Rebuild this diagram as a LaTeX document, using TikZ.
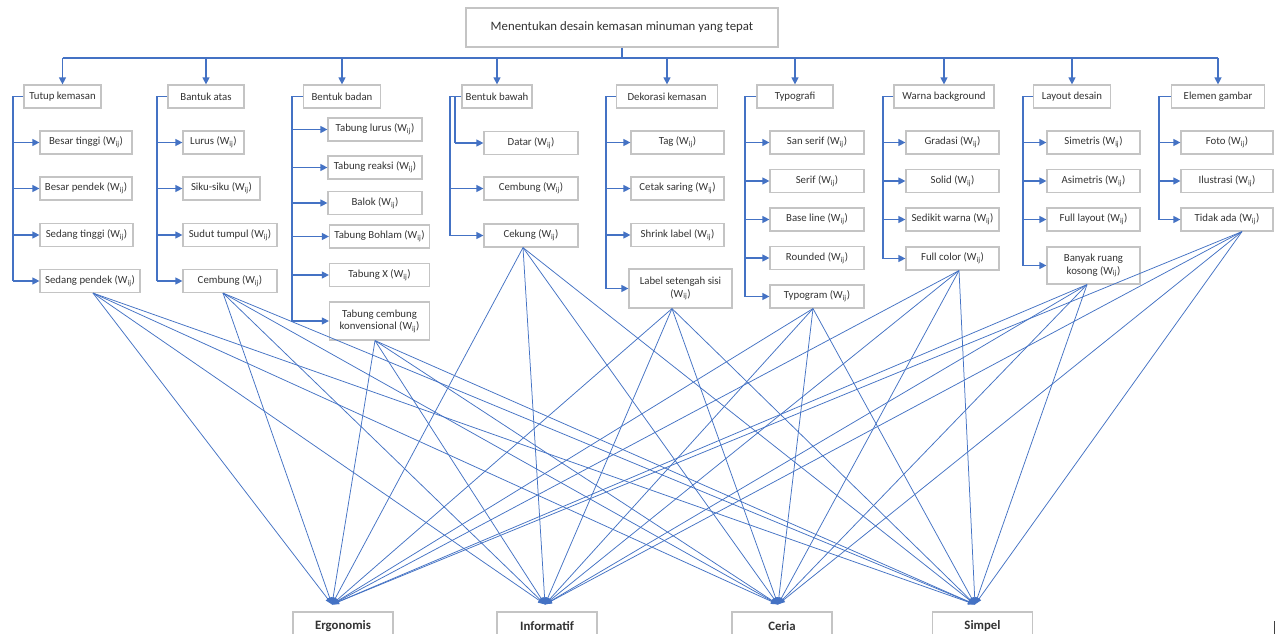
\documentclass[tikz,border=0pt]{standalone}
\usepackage{fontspec}
\setmainfont{Carlito}
\usetikzlibrary{arrows.meta,calc}
\definecolor{lnblue}{HTML}{4472C4}
\definecolor{bxgray}{HTML}{C4C4C4}
\definecolor{txt}{HTML}{333333}
\newcommand\Wij{(W\textsubscript{ij})}
\begin{document}
\begin{tikzpicture}[x=1pt,y=-1pt,
  box/.style={draw=bxgray,line width=1.2pt,fill=white,minimum height=23pt,inner sep=1pt,
    text=txt,font=\fontsize{10.8}{12.5}\selectfont,align=center},
  tree/.style={draw=lnblue,line width=1.2pt},
  tarr/.style={tree,-{Triangle[length=7pt,width=7pt]}},
  crit/.style={draw=lnblue,line width=0.75pt,-{Triangle[length=7pt,width=5pt]}},
  crbox/.style={draw=bxgray,line width=1.2pt,fill=white,minimum width=100pt,minimum height=28pt,
    inner sep=1pt,text=txt,font=\fontsize{12.8}{14}\selectfont\bfseries}]
\useasboundingbox (0,0) rectangle (1282,634);
\fill[white] (0,0) rectangle (1282,634);

% top
\node[box,minimum width=312pt,minimum height=39pt,font=\fontsize{12.8}{14}\selectfont] (top) at (622,27.5) {Menentukan desain kemasan minuman yang tepat};
\coordinate (busL) at (62.5,58);
\coordinate (busR) at (1218,58);
\draw[tree] (top.south) -- (top.south|-busL);
\draw[tree] (busL) -- (busR);

% categories
\node[box,minimum width=77pt]  (c1) at (62.5,96.5) {Tutup kemasan};
\node[box,minimum width=76pt]  (c2) at (206,96.5) {Bantuk atas};
\node[box,minimum width=77pt]  (c3) at (342,96.5) {Bentuk badan};
\node[box,minimum width=70pt]  (c4) at (497,96.5) {Bentuk bawah};
\node[box,minimum width=101pt] (c5) at (667,96.5) {Dekorasi kemasan};
\node[box,minimum width=76pt]  (c6) at (795,96.5) {Typografi};
\node[box,minimum width=100pt] (c7) at (944,96.5) {Warna background};
\node[box,minimum width=77pt]  (c8) at (1072,96.5) {Layout desain};
\node[box,minimum width=93pt]  (c9) at (1218,96.5) {Elemen gambar};
\foreach \c in {c1,c2,c3,c4,c5,c6,c7,c8,c9}
  \draw[tarr] (\c.north|-busL) -- (\c.north);

% children
\node[box,minimum width=92pt]  (a1) at (86,142.5) {Besar tinggi \Wij};
\node[box,minimum width=92pt]  (a2) at (86,188.5) {Besar pendek \Wij};
\node[box,minimum width=93pt]  (a3) at (86.5,235) {Sedang tinggi \Wij};
\node[box,minimum width=100pt] (a4) at (90,281) {Sedang pendek \Wij};

\node[box,minimum width=61pt]  (b1) at (213.5,142.5) {Lurus \Wij};
\node[box,minimum width=77pt]  (b2) at (221.5,188.5) {Siku-siku \Wij};
\node[box,minimum width=94pt]  (b3) at (230,235) {Sudut tumpul \Wij};
\node[box,minimum width=94pt]  (b4) at (230,281) {Cembung \Wij};

\node[box,minimum width=94pt]  (d1) at (375,129.5) {Tabung lurus \Wij};
\node[box,minimum width=94pt]  (d2) at (375,167.5) {Tabung reaksi \Wij};
\node[box,minimum width=94pt]  (d3) at (375,203) {Balok \Wij};
\node[box,minimum width=100pt] (d4) at (379.5,236.5) {Tabung Bohlam \Wij};
\node[box,minimum width=100pt] (d5) at (379.5,275) {Tabung X \Wij};
\node[box,minimum width=100pt,minimum height=38pt] (d6) at (379.5,321) {Tabung cembung\\konvensional \Wij};

\node[box,minimum width=94pt]  (e1) at (531,143) {Datar \Wij};
\node[box,minimum width=94pt]  (e2) at (531,188.5) {Cembung \Wij};
\node[box,minimum width=94pt]  (e3) at (531,235.5) {Cekung \Wij};

\node[box,minimum width=93pt]  (f1) at (677.5,142.5) {Tag \Wij};
\node[box,minimum width=93pt]  (f2) at (677.5,188.5) {Cetak saring \Wij};
\node[box,minimum width=93pt]  (f3) at (677.5,235) {Shrink label \Wij};
\node[box,minimum width=103pt,minimum height=39pt] (f4) at (680.5,288.5) {Label setengah sisi\\\Wij};

\node[box,minimum width=94pt]  (g1) at (817,142.5) {San serif \Wij};
\node[box,minimum width=94pt]  (g2) at (817,181) {Serif \Wij};
\node[box,minimum width=94pt]  (g3) at (817,219.5) {Base line \Wij};
\node[box,minimum width=94pt]  (g4) at (817,258) {Rounded \Wij};
\node[box,minimum width=94pt]  (g5) at (817,296.5) {Typogram \Wij};

\node[box,minimum width=93pt]  (h1) at (952.5,142.5) {Gradasi \Wij};
\node[box,minimum width=93pt]  (h2) at (952.5,181) {Solid \Wij};
\node[box,minimum width=93pt]  (h3) at (952.5,219.5) {Sedikit warna \Wij};
\node[box,minimum width=93pt]  (h4) at (952.5,258.5) {Full color \Wij};

\node[box,minimum width=93pt]  (i1) at (1093.5,142.5) {Simetris \Wij};
\node[box,minimum width=93pt]  (i2) at (1093.5,181) {Asimetris \Wij};
\node[box,minimum width=93pt]  (i3) at (1093.5,219.5) {Full layout \Wij};
\node[box,minimum width=93pt,minimum height=37pt] (i4) at (1093.5,265.5) {Banyak ruang\\kosong \Wij};

\node[box,minimum width=92pt]  (j1) at (1227,142.5) {Foto \Wij};
\node[box,minimum width=92pt]  (j2) at (1227,181) {Ilustrasi \Wij};
\node[box,minimum width=92pt]  (j3) at (1227,219.5) {Tidak ada \Wij};

% tree connectors
\coordinate (v1) at (13,96.5);
\coordinate (v2) at (157,96.5);
\coordinate (v3) at (292,96.5);
\coordinate (v4) at (450,96.5);
\coordinate (v4b) at (455,96.5);
\coordinate (v5) at (606,96.5);
\coordinate (v6) at (745,96.5);
\coordinate (v7) at (883,96.5);
\coordinate (v8) at (1023,96.5);
\coordinate (v9) at (1159,96.5);

\draw[tree] (c1.west) -- (v1) -- (v1|-a4.west);
\foreach \n in {a1,a2,a3,a4} \draw[tarr] (v1|-\n.west) -- (\n.west);
\draw[tree] (c2.west) -- (v2) -- (v2|-b4.west);
\foreach \n in {b1,b2,b3,b4} \draw[tarr] (v2|-\n.west) -- (\n.west);
\draw[tree] (c3.west) -- (v3) -- (v3|-d6.west);
\foreach \n in {d1,d2,d3,d4,d5,d6} \draw[tarr] (v3|-\n.west) -- (\n.west);
\draw[tree] (c4.west) -- (v4) -- (v4|-e3.west);
\draw[tree] (v4b) -- (v4b|-e1.west);
\draw[tarr] (v4b|-e1.west) -- (e1.west);
\foreach \n in {e2,e3} \draw[tarr] (v4|-\n.west) -- (\n.west);
\draw[tree] (c5.west) -- (v5) -- (v5|-f4.west);
\foreach \n in {f1,f2,f3,f4} \draw[tarr] (v5|-\n.west) -- (\n.west);
\draw[tree] (c6.west) -- (v6) -- (v6|-g5.west);
\foreach \n in {g1,g2,g3,g4,g5} \draw[tarr] (v6|-\n.west) -- (\n.west);
\draw[tree] (c7.west) -- (v7) -- (v7|-h4.west);
\foreach \n in {h1,h2,h3,h4} \draw[tarr] (v7|-\n.west) -- (\n.west);
\draw[tree] (c8.west) -- (v8) -- (v8|-i4.west);
\foreach \n in {i1,i2,i3,i4} \draw[tarr] (v8|-\n.west) -- (\n.west);
\draw[tree] (c9.west) -- (v9) -- (v9|-j3.west);
\foreach \n in {j1,j2,j3} \draw[tarr] (v9|-\n.west) -- (\n.west);

% criteria
\node[crbox] (ergo) at (343,626) {Ergonomis};
\node[crbox] (info) at (547,626) {Informatif};
\node[crbox] (ceria) at (782,626) {Ceria};
\node[crbox] (simp) at (982.5,626) {Simpel};

\foreach \s/\dx in {a4/3,b4/-7,d6/-4.5,e3/-8,f4/-8.5,g5/-4,h4/6.5,i4/-6.5,j3/15}
  \foreach \t/\tx in {ergo/-11,info/-2,ceria/-4,simp/-7.5}
    \draw[crit] ($(\s.south)+(\dx,0)$) -- ($(\t.north)+(\tx,-7)$);

\draw[black!75,line width=1pt] (1274,621) -- (1274,634);
\end{tikzpicture}
\end{document}
